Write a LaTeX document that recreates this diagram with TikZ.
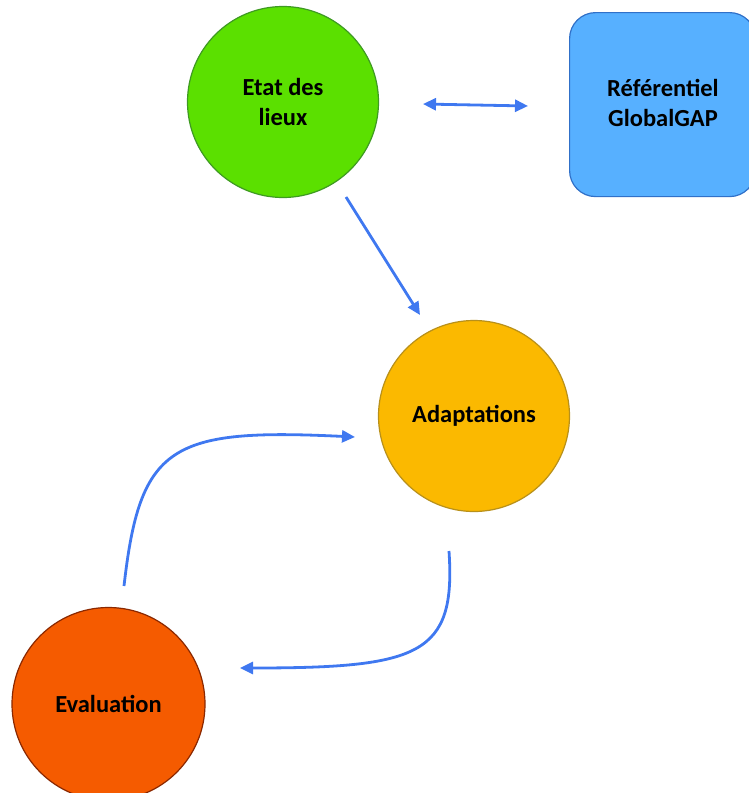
\documentclass[tikz,border=0pt]{standalone}
\usepackage{fontspec}
\setmainfont{Carlito}
\usetikzlibrary{arrows.meta}
\definecolor{cgreen}{HTML}{5BE000}
\definecolor{cgreenb}{HTML}{3E9A22}
\definecolor{cblue}{HTML}{57B0FF}
\definecolor{cblueb}{HTML}{3070C8}
\definecolor{cyel}{HTML}{FBB900}
\definecolor{cyelb}{HTML}{B8901A}
\definecolor{corg}{HTML}{F55B00}
\definecolor{corgb}{HTML}{8B2800}
\definecolor{carr}{HTML}{3F78F0}
\tikzset{
  lbl/.style={align=center, font=\bfseries\fontsize{24.5}{30}\selectfont},
  circ/.style={circle, draw, line width=1.2pt, minimum size=191pt, inner sep=0pt, lbl},
  conn/.style={draw=carr, line width=2.8pt, -{Triangle[length=13pt,width=12pt]}},
}
\begin{document}
\begin{tikzpicture}[x=1pt,y=-1pt]
\useasboundingbox (0,0) rectangle (749,793);
\node[circ, fill=cgreen, draw=cgreenb] (etat) at (283,102) {Etat des\\lieux};
\node[draw=cblueb, fill=cblue, line width=1.2pt, rounded corners=26pt, minimum width=186pt, minimum height=184pt, anchor=north west, inner sep=0pt] (ref) at (569,12) {};
\node[lbl] (reftxt) at (663,103) {Référentiel\\GlobalGAP};
\node[circ, fill=cyel, draw=cyelb] (adapt) at (474,416) {Adaptations};
\node[circ, fill=corg, draw=corgb, minimum size=193pt] (eval) at (108.5,704) {Evaluation};
\coordinate (a1) at (423,104);
\coordinate (a2) at (528,106);
\draw[conn, {Triangle[length=13pt,width=12pt]}-{Triangle[length=13pt,width=12pt]}] (a1) -- (a2);
\coordinate (b1) at (346,197);
\coordinate (b2) at (420,315);
\draw[conn] (b1) -- (b2);
\coordinate (c1) at (124,586);
\coordinate (c2) at (355,437);
\draw[conn] (c1) .. controls (140,445) and (170,428) .. (c2);
\coordinate (d1) at (449,551);
\coordinate (d2) at (240,668);
\draw[conn] (d1) .. controls (456,655) and (420,668) .. (d2);
\end{tikzpicture}
\end{document}
